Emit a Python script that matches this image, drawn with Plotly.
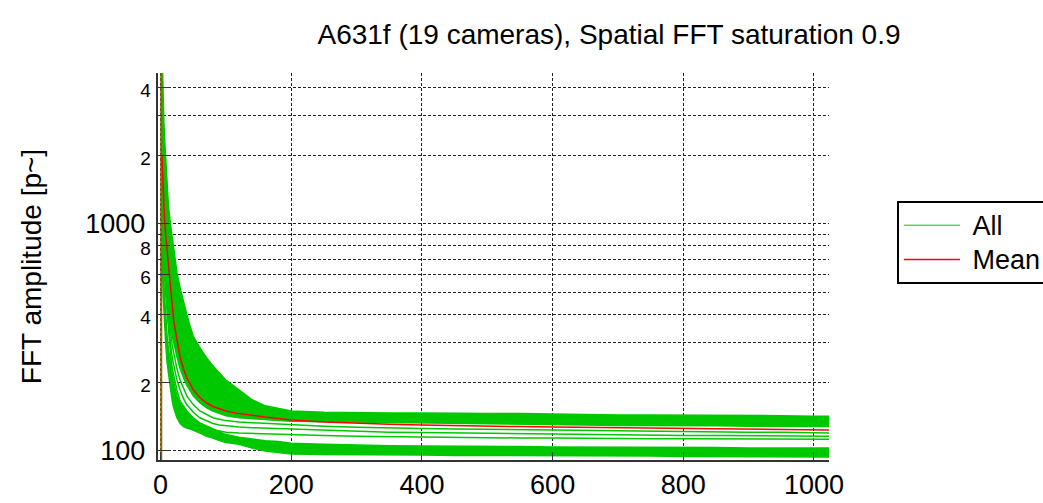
import plotly.graph_objects as go

# ---------------- data ----------------
xs = [2, 3, 4, 5, 6, 8, 10, 12, 15, 18, 20, 25, 30, 35, 40, 45, 50, 60, 70, 80, 90,
      100, 120, 140, 160, 180, 200, 250, 300, 350, 400, 450, 500, 550, 600, 650,
      700, 750, 800, 850, 900, 950, 1000, 1023]

# mean of all cameras (red)
mean_y = [2000, 1650, 1400, 1200, 1050, 880, 760, 650, 500, 410, 375, 310, 258, 230, 210,
          198, 186, 172, 163, 157, 153, 150, 146, 143, 141, 139, 137, 134, 132, 131, 130,
          129, 128.5, 128, 127.5, 127, 126.5, 126, 125.5, 125, 124.5, 124, 123.5, 123.5]

# dense upper bundle of cameras: upper / lower envelope
top_hi = [6000, 4200, 3300, 2800, 2400, 1900, 1450, 1200, 1000, 860, 780, 610, 520, 450, 400,
          355, 320, 285, 258, 237, 220, 205, 186, 168, 158, 154, 150, 148, 147, 147, 147,
          146, 146, 146, 145, 145, 144, 144, 144, 143, 143, 143, 142, 142]
top_lo = [1800, 1500, 1200, 1000, 850, 650, 520, 440, 370, 320, 300, 260, 230, 210, 195,
          185, 175, 163, 155, 150, 146, 143, 140, 138, 137, 136, 135, 134, 133.5, 133, 132.5,
          132, 131.5, 131, 130.5, 130, 129.5, 129.5, 129, 129, 128.5, 128.5, 128, 128]

# individual cameras below the mean
mid1_y = [1500, 1200, 1000, 850, 750, 600, 500, 430, 340, 290, 270, 230, 205, 188, 175,
          167, 160, 150, 145, 140, 138, 136, 134, 133, 132, 131, 130, 128.5, 127, 126, 125.5,
          125, 124.5, 124, 123.5, 123, 122.5, 122.5, 122, 121.5, 121, 121, 120.5, 120]
mid2_y = [1400, 1100, 900, 780, 680, 540, 450, 380, 300, 255, 240, 205, 185, 170, 160,
          153, 148, 140, 136, 132, 130, 129, 127.5, 126.5, 126, 125, 124.5, 123, 122, 121, 120.5,
          120, 119.5, 119, 118.5, 118, 118, 117.5, 117, 117, 116.5, 116.5, 116, 116]
low1_y = [1300, 1000, 820, 700, 600, 480, 400, 340, 270, 230, 215, 185, 165, 153, 145,
          139, 135, 130, 127, 124, 122.5, 121, 120, 119.5, 119, 118, 117.5, 117, 116, 115.5, 115,
          114.5, 114.5, 114, 114, 113.5, 113.5, 113, 113, 113, 113, 112.5, 112.5, 112.5]

# lowest bundle of cameras: upper / lower envelope
bot_hi = [1200, 850, 650, 560, 480, 380, 320, 280, 250, 215, 200, 175, 165, 158, 150,
          145, 140, 133, 129, 125, 121, 118, 115, 113, 111, 110, 108, 107, 106, 105.5, 105,
          105, 104.5, 104.5, 104, 104, 104, 103.5, 103.5, 103.5, 103, 103, 103, 103]
bot_lo = [900, 620, 480, 400, 360, 290, 244, 215, 190, 165, 155, 140, 132, 128, 126,
          125, 124, 120, 116, 114, 111, 109, 107, 103, 100, 98.5, 97, 96.5, 96, 96, 96,
          95.5, 95.5, 95.5, 95, 95, 95, 95, 94.5, 94.5, 94.5, 94.5, 94, 94]

# first FFT bin (off-scale both ways)
dc_x = [1.0, 1.0]
dc_y = [10, 100000]

y_tickvals = [100, 200, 400, 600, 800, 1000, 2000, 4000]
y_ticktext = ["100", "2", "4", "6", "8", "1000", "2", "4"]
y_minorvals = [300, 500, 700, 900, 3000]
x_tickvals = [0, 200, 400, 600, 800, 1000]

GREEN = "#00C800"
RED = "#FF0000"
GRID = "#222222"

fig = go.Figure()


def band(hi, lo):
    return dict(x=xs + xs[::-1], y=hi + lo[::-1])


b = band(top_hi, top_lo)
fig.add_trace(go.Scatter(x=b["x"], y=b["y"], mode="lines", fill="toself",
                         fillcolor=GREEN, line=dict(color=GREEN, width=1.5),
                         showlegend=False, hoverinfo="skip"))
b = band(bot_hi, bot_lo)
fig.add_trace(go.Scatter(x=b["x"], y=b["y"], mode="lines", fill="toself",
                         fillcolor=GREEN, line=dict(color=GREEN, width=1.5),
                         showlegend=False, hoverinfo="skip"))
for yy in (mid1_y, mid2_y, low1_y):
    fig.add_trace(go.Scatter(x=xs, y=yy, mode="lines",
                             line=dict(color=GREEN, width=1.5),
                             showlegend=False, hoverinfo="skip"))
fig.add_trace(go.Scatter(x=dc_x, y=dc_y, mode="lines",
                         line=dict(color="#8C6A00", width=2),
                         showlegend=False, hoverinfo="skip"))

# legend entries
LEG = '<span style="font-size:27px">\u00a0%s</span>'
fig.add_trace(go.Scatter(x=[None], y=[None], mode="lines", name=LEG % "All",
                         line=dict(color=GREEN, width=1)))
fig.add_trace(go.Scatter(x=xs, y=mean_y, mode="lines", name=LEG % "Mean",
                         line=dict(color=RED, width=1.5)))


def ylab(t):
    if t in ("100", "1000"):
        return t + '<span style="font-size:20px">\u00a0</span>'
    return '<span style="font-size:19px">' + t + '</span>'


FONT = "Liberation Sans, Arial, sans-serif"
fig.update_layout(
    width=1043, height=503,
    margin=dict(l=158, r=214, t=73, b=43, autoexpand=False),
    paper_bgcolor="white", plot_bgcolor="white",
    font=dict(family=FONT, size=27, color="black"),
    title=dict(text="A631f (19 cameras), Spatial FFT saturation 0.9",
               x=609 / 1043, xanchor="center", y=1 - 34 / 503, yanchor="middle",
               yref="container",
               font=dict(size=28, family=FONT, color="black")),
    legend=dict(x=1.1013, xanchor="left", y=0.669, yanchor="top",
                bordercolor="black", borderwidth=2, bgcolor="white",
                font=dict(size=24, family=FONT), itemwidth=56, tracegroupgap=0),
    showlegend=True,
)
fig.update_xaxes(range=[-4, 1023], tickvals=x_tickvals,
                 ticks="inside", ticklen=8, tickcolor="#333", tickwidth=1,
                 showline=True, linecolor="#333", linewidth=1.5, mirror=False,
                 showgrid=True, gridcolor=GRID, gridwidth=1, griddash="3px,2px",
                 zeroline=False, tickfont=dict(size=27))
fig.update_yaxes(type="log", range=[1.96, 3.665],
                 tickvals=y_tickvals,
                 ticktext=[ylab(t) for t in y_ticktext],
                 ticks="inside", ticklen=12, tickcolor="#333", tickwidth=1,
                 showline=True, linecolor="#333", linewidth=1.5, mirror=False,
                 showgrid=True, gridcolor=GRID, gridwidth=1, griddash="3px,2px",
                 minor=dict(tickvals=y_minorvals, ticks="inside", ticklen=4,
                            tickcolor="#333", showgrid=True, gridcolor=GRID,
                            gridwidth=1, griddash="3px,2px"),
                 zeroline=False, tickfont=dict(size=27),
                 title=dict(text="FFT amplitude [p~]", standoff=35,
                            font=dict(size=28)))

fig.write_html("out.html",
               config={"displayModeBar": False},
               post_script="document.body.style.margin='0px';"
                           "document.body.style.overflow='hidden';")
